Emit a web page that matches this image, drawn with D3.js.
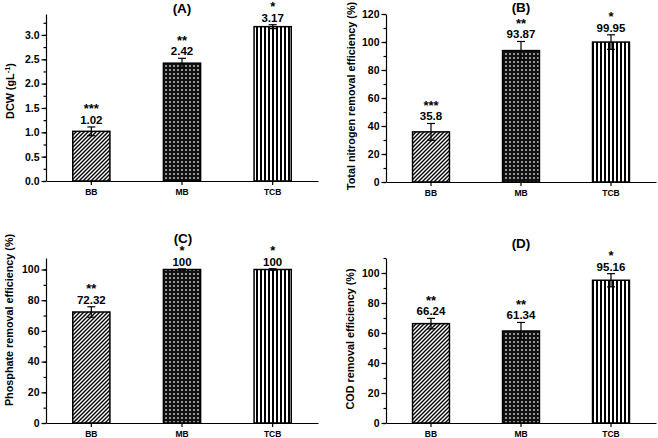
<!DOCTYPE html>
<html>
  <head>
    <meta charset="utf-8">
    <title>Biomass and removal efficiency</title>
    <script src="https://d3js.org/d3.v7.min.js"></script>
    <style>
      body { margin: 0; background: #fff; }
      svg { display: block; font-family: "Liberation Sans", Arial, sans-serif; font-weight: bold; }
      .axis text { font-weight: bold; fill: #000; }
      .axis path, .axis line { stroke: #000; stroke-width: 1.2; }
    </style>
  </head>
  <body>
    <svg id="chart" width="658" height="438"></svg>
    <script>
      // data
      var categories = ["BB", "MB", "TCB"];

      var dcwValues = [1.02, 2.42, 3.17];
      var dcwErrors = [0.09, 0.10, 0.04];
      var dcwStars = ["***", "**", "*"];

      var nitrogenValues = [35.8, 93.87, 99.95];
      var nitrogenErrors = [6.0, 6.5, 5.2];
      var nitrogenStars = ["***", "**", "*"];

      var phosphateValues = [72.32, 100, 100];
      var phosphateErrors = [3.4, 0.4, 0.5];
      var phosphateStars = ["**", "*", "*"];

      var codValues = [66.24, 61.34, 95.16];
      var codErrors = [3.5, 5.7, 4.4];
      var codStars = ["**", "**", "*"];

      var dcwTicks = [0, 0.5, 1.0, 1.5, 2.0, 2.5, 3.0];
      var percentTicks = [0, 20, 40, 60, 80, 100, 120];

      var patterns = ["hatch", "dots", "stripes"];

      var chart = d3.select("#chart");

      // fill patterns
      var defs = chart.append("defs");
      var hatch = defs.append("pattern")
        .attr("id", "hatch")
        .attr("patternUnits", "userSpaceOnUse")
        .attr("width", 4)
        .attr("height", 4);
      hatch.append("rect").attr("width", 4).attr("height", 4).attr("fill", "#fff");
      hatch.append("path")
        .attr("d", "M-1,1 l2,-2 M0,4 l4,-4 M3,5 l2,-2")
        .attr("stroke", "#000")
        .attr("stroke-width", 1.4);
      var dots = defs.append("pattern")
        .attr("id", "dots")
        .attr("patternUnits", "userSpaceOnUse")
        .attr("width", 4)
        .attr("height", 4);
      dots.append("rect").attr("width", 4).attr("height", 4).attr("fill", "#111");
      dots.append("rect").attr("x", 1.2).attr("y", 1.2).attr("width", 1.6).attr("height", 1.6).attr("fill", "#ddd");
      var stripes = defs.append("pattern")
        .attr("id", "stripes")
        .attr("patternUnits", "userSpaceOnUse")
        .attr("width", 4)
        .attr("height", 4);
      stripes.append("rect").attr("width", 4).attr("height", 4).attr("fill", "#fff");
      stripes.append("rect").attr("x", 0).attr("width", 2).attr("height", 4).attr("fill", "#000");

      var panels = [
        { title: "(A)", titleX: 182, titleY: 13, left: 46, right: 318, top: 14, bottom: 181, max: 3.43,
          ticks: dcwTicks, minorStep: 0.25, fmt: d3.format(".1f"),
          values: dcwValues, errors: dcwErrors, stars: dcwStars, labelX: 14, labelY: 91, label: "DCW" },
        { title: "(B)", titleX: 521, titleY: 12, left: 386, right: 656, top: 14, bottom: 182, max: 120,
          ticks: percentTicks, minorStep: 10, fmt: d3.format("d"),
          values: nitrogenValues, errors: nitrogenErrors, stars: nitrogenStars, labelX: 355, labelY: 96,
          label: "Total nitrogen removal efficiency (%)" },
        { title: "(C)", titleX: 183, titleY: 243, left: 46, right: 318, top: 258, bottom: 423, max: 107.5,
          ticks: percentTicks.slice(0, 6), minorStep: 10, fmt: d3.format("d"),
          values: phosphateValues, errors: phosphateErrors, stars: phosphateStars, labelX: 13, labelY: 320,
          label: "Phosphate removal efficiency (%)" },
        { title: "(D)", titleX: 521, titleY: 248, left: 386, right: 656, top: 258, bottom: 423, max: 110,
          ticks: percentTicks.slice(0, 6), minorStep: 10, fmt: d3.format("d"),
          values: codValues, errors: codErrors, stars: codStars, labelX: 354, labelY: 339,
          label: "COD removal efficiency (%)" }
      ];

      panels.forEach(function(p) {
        var g = chart.append("g");
        var x = d3.scaleBand()
          .domain(categories)
          .range([p.left, p.right])
          .paddingInner(0.59)
          .paddingOuter(0.295);
        var y = d3.scaleLinear()
          .domain([0, p.max])
          .range([p.bottom, p.top]);

        var rows = categories.map(function(c, i) {
          return { cat: c, value: p.values[i], err: p.errors[i], stars: p.stars[i], pattern: patterns[i] };
        });

        // bars
        g.selectAll(".bar")
          .data(rows)
          .enter().append("rect")
            .attr("x", function(d) { return x(d.cat); })
            .attr("y", function(d) { return y(d.value); })
            .attr("width", x.bandwidth())
            .attr("height", function(d) { return y(0) - y(d.value); })
            .attr("fill", function(d) { return "url(#" + d.pattern + ")"; })
            .attr("stroke", "#000")
            .attr("stroke-width", 1.5);

        // error bars
        var eb = g.selectAll(".err")
          .data(rows)
          .enter().append("g")
            .attr("stroke", "#000")
            .attr("stroke-width", 1.2);
        eb.append("line")
          .attr("x1", function(d) { return x(d.cat) + x.bandwidth() / 2; })
          .attr("x2", function(d) { return x(d.cat) + x.bandwidth() / 2; })
          .attr("y1", function(d) { return y(d.value - d.err); })
          .attr("y2", function(d) { return y(d.value + d.err); });
        eb.selectAll(".cap")
          .data(function(d) { return [d.value - d.err, d.value + d.err].map(function(v) { return { cat: d.cat, v: v }; }); })
          .enter().append("line")
            .attr("x1", function(d) { return x(d.cat) + x.bandwidth() / 2 - 4; })
            .attr("x2", function(d) { return x(d.cat) + x.bandwidth() / 2 + 4; })
            .attr("y1", function(d) { return y(d.v); })
            .attr("y2", function(d) { return y(d.v); });

        // value labels and stars
        g.selectAll(".val")
          .data(rows)
          .enter().append("text")
            .attr("x", function(d) { return x(d.cat) + x.bandwidth() / 2; })
            .attr("y", function(d) { return y(d.value + d.err) - 3; })
            .attr("text-anchor", "middle")
            .attr("font-size", 11.5)
            .text(function(d) { return String(d.value); });
        g.selectAll(".star")
          .data(rows)
          .enter().append("text")
            .attr("x", function(d) { return x(d.cat) + x.bandwidth() / 2; })
            .attr("y", function(d) { return y(d.value + d.err) - 13.5; })
            .attr("text-anchor", "middle")
            .attr("font-size", 13)
            .text(function(d) { return d.stars; });

        // axes
        var minorTicks = d3.range(0, p.max + 1e-9, p.minorStep);
        g.append("g")
          .attr("class", "axis")
          .attr("transform", "translate(" + p.left + ",0)")
          .call(d3.axisLeft(y).tickValues(minorTicks).tickSize(2.5).tickFormat(""))
          .select(".domain").remove();
        g.append("g")
          .attr("class", "axis")
          .attr("transform", "translate(" + p.left + ",0)")
          .call(d3.axisLeft(y).tickValues(p.ticks).tickSize(4.5).tickSizeOuter(0).tickPadding(2).tickFormat(p.fmt))
          .call(function(a) { a.selectAll("text").attr("font-size", 10.5); });
        g.append("g")
          .attr("class", "axis")
          .attr("transform", "translate(0," + p.bottom + ")")
          .call(d3.axisBottom(x).tickSize(4).tickSizeOuter(0).tickPadding(4))
          .call(function(a) { a.selectAll("text").attr("font-size", 8.5); });

        // titles
        g.append("text")
          .attr("x", p.titleX)
          .attr("y", p.titleY)
          .attr("text-anchor", "middle")
          .attr("font-size", 13.5)
          .text(p.title);
        var yl = g.append("text")
          .attr("transform", "translate(" + p.labelX + "," + p.labelY + ") rotate(-90)")
          .attr("text-anchor", "middle")
          .attr("font-size", 10.8)
          .text(p.label);
        if (p.label === "DCW") {
          yl.text("DCW (gL");
          yl.append("tspan").attr("baseline-shift", "super").attr("font-size", 7.5).text("-1");
          yl.append("tspan").text(")");
        }
      });
    </script>
  </body>
</html>
